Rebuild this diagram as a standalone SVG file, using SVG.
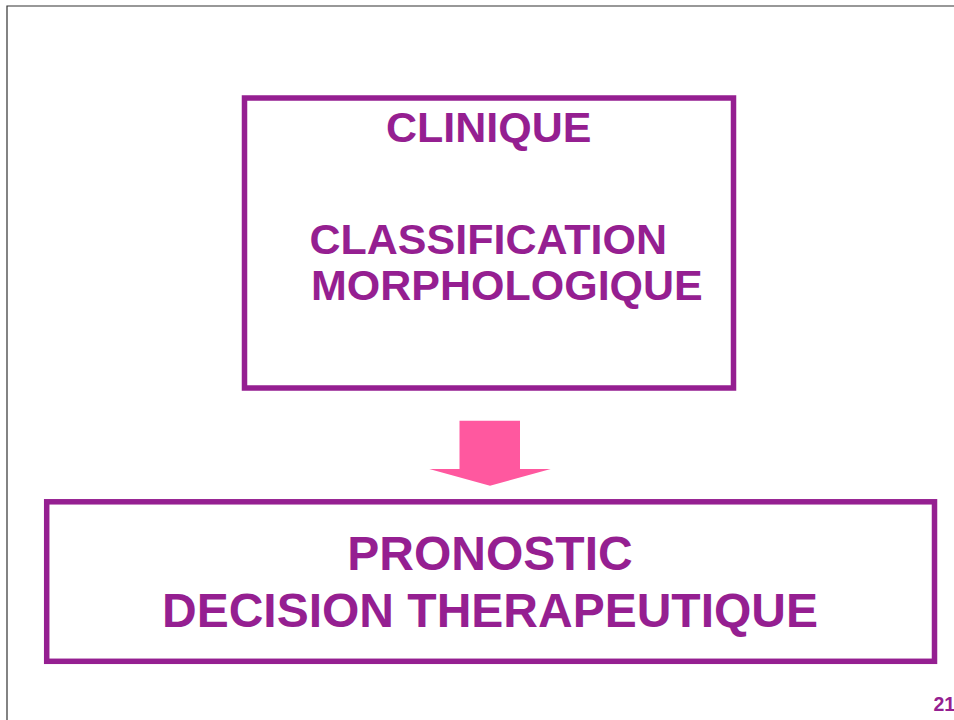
<svg xmlns="http://www.w3.org/2000/svg" width="954" height="720" viewBox="0 0 954 720">
<style>
.box{fill:none;stroke:#951F91;stroke-width:5.5}
.t{font-family:"Liberation Sans",Arial,sans-serif;font-weight:bold;fill:#951F91}
</style>
<rect width="954" height="720" fill="#ffffff"/>
<path d="M7,720 V6 H954" fill="none" stroke="#333333" stroke-width="1.2"/>
<g id="node-clinique">
<rect class="box" x="244.5" y="98" width="489" height="290"/>
<text class="t" x="386" y="141.5" font-size="43">CLINIQUE</text>
<text class="t" x="309.5" y="254" font-size="43">CLASSIFICATION</text>
<text class="t" x="311" y="300" font-size="43">MORPHOLOGIQUE</text>
</g>
<g id="connectors">
<polygon points="459.5,420.7 520,420.7 520,469 550.7,469 490,485.7 429.3,469 459.5,469" fill="#FF589F"/>
</g>
<g id="node-pronostic">
<rect class="box" x="46.7" y="501.8" width="887.8" height="159.5"/>
<text class="t" x="490" y="570" font-size="48" text-anchor="middle">PRONOSTIC</text>
<text class="t" x="490" y="627.3" font-size="48" text-anchor="middle">DECISION THERAPEUTIQUE</text>
</g>
<text class="t" x="933.5" y="711" font-size="19.5">21</text>
</svg>
